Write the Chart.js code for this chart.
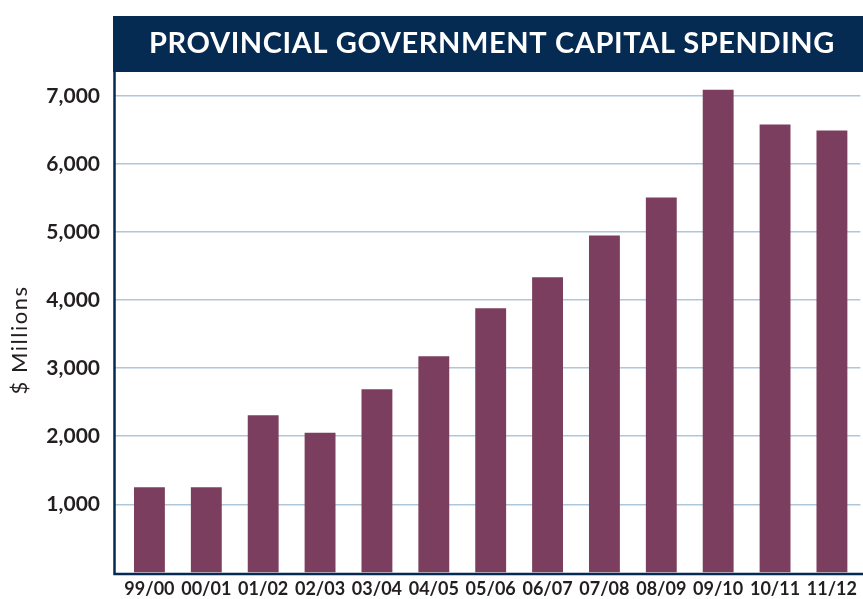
<!DOCTYPE html>
<html>
<head>
<meta charset="utf-8">
<script src="https://cdn.jsdelivr.net/npm/chart.js@4.4.1/dist/chart.umd.min.js"></script>
<style>
  html, body { margin: 0; padding: 0; background: #fff; }
  canvas { display: block; }
</style>
</head>
<body>
<canvas id="c" width="863" height="599"></canvas>
<script>
const TITLE = 'PROVINCIAL GOVERNMENT CAPITAL SPENDING';
const Y_TITLE = '$ Millions';
const categories = ['99/00','00/01','01/02','02/03','03/04','04/05','05/06','06/07','07/08','08/09','09/10','10/11','11/12'];
const spending = [1250, 1250, 2310, 2050, 2690, 3175, 3880, 4335, 4950, 5505, 7090, 6580, 6490];
const yTicks = [1000, 2000, 3000, 4000, 5000, 6000, 7000];
const Y_MAX = 7350;

const NAVY = '#062b52';
const BAR = '#7c3e5e';
const GRID = '#aec7da';
const TEXT = '#231f20';

const frame = {
  id: 'frame',
  beforeDraw(chart) {
    const ctx = chart.ctx;
    ctx.save();
    ctx.fillStyle = '#fff';
    ctx.fillRect(0, 0, chart.width, chart.height);
    ctx.restore();
  },
  afterDraw(chart) {
    const ctx = chart.ctx, a = chart.chartArea;
    const left = a.left - 8;
    ctx.save();
    // title bar
    ctx.fillStyle = NAVY;
    ctx.fillRect(left, 16, chart.width - left, a.top - 16);
    ctx.fillStyle = '#fff';
    ctx.font = 'bold 29px Lato';
    ctx.letterSpacing = '0.6px';
    ctx.textAlign = 'center';
    ctx.textBaseline = 'middle';
    ctx.fillText(TITLE, (left + chart.width) / 2 + 4, 44);
    ctx.letterSpacing = '0px';
    // axis lines
    ctx.strokeStyle = NAVY;
    ctx.lineWidth = 2.5;
    ctx.beginPath();
    ctx.moveTo(left + 1.5, a.top);
    ctx.lineTo(left + 1.5, a.bottom + 1.5);
    ctx.lineTo(chart.width, a.bottom + 1.5);
    ctx.stroke();
    // y title
    ctx.translate(20, 340);
    ctx.rotate(-Math.PI / 2);
    ctx.font = '22px Lato';
    ctx.letterSpacing = '1.5px';
    ctx.fillStyle = TEXT;
    ctx.fillText(Y_TITLE, 0, 0);
    ctx.restore();
  }
};

new Chart(document.getElementById('c'), {
  type: 'bar',
  data: {
    labels: categories,
    datasets: [{
      data: spending,
      backgroundColor: BAR,
      borderWidth: 0,
      barPercentage: 0.543,
      categoryPercentage: 1
    }]
  },
  options: {
    responsive: false,
    animation: false,
    devicePixelRatio: 1,
    layout: { padding: { top: 72, right: 0, bottom: 0, left: 0 } },
    plugins: { legend: { display: false }, title: { display: false }, tooltip: { enabled: false } },
    scales: {
      x: {
        offset: true,
        grid: { display: false, drawTicks: false },
        border: { display: false },
        ticks: {
          autoSkip: false, maxRotation: 0, minRotation: 0,
          padding: 6,
          color: TEXT,
          font: { family: 'Lato', weight: 'bold', size: 18 }
        },
        afterFit(scale) { scale.height = 25; }
      },
      y: {
        min: 0,
        max: Y_MAX,
        border: { display: false },
        grid: { color: GRID, lineWidth: 1.5, drawTicks: true, tickLength: 7, tickColor: GRID },
        afterBuildTicks(scale) { scale.ticks = yTicks.map(v => ({ value: v })); },
        ticks: {
          padding: 14,
          color: TEXT,
          font: { family: 'Lato', weight: 'bold', size: 21 },
          callback: v => v.toLocaleString('en-US')
        },
        afterFit(scale) { scale.width = 121; }
      }
    }
  },
  plugins: [frame]
});
</script>
</body>
</html>
